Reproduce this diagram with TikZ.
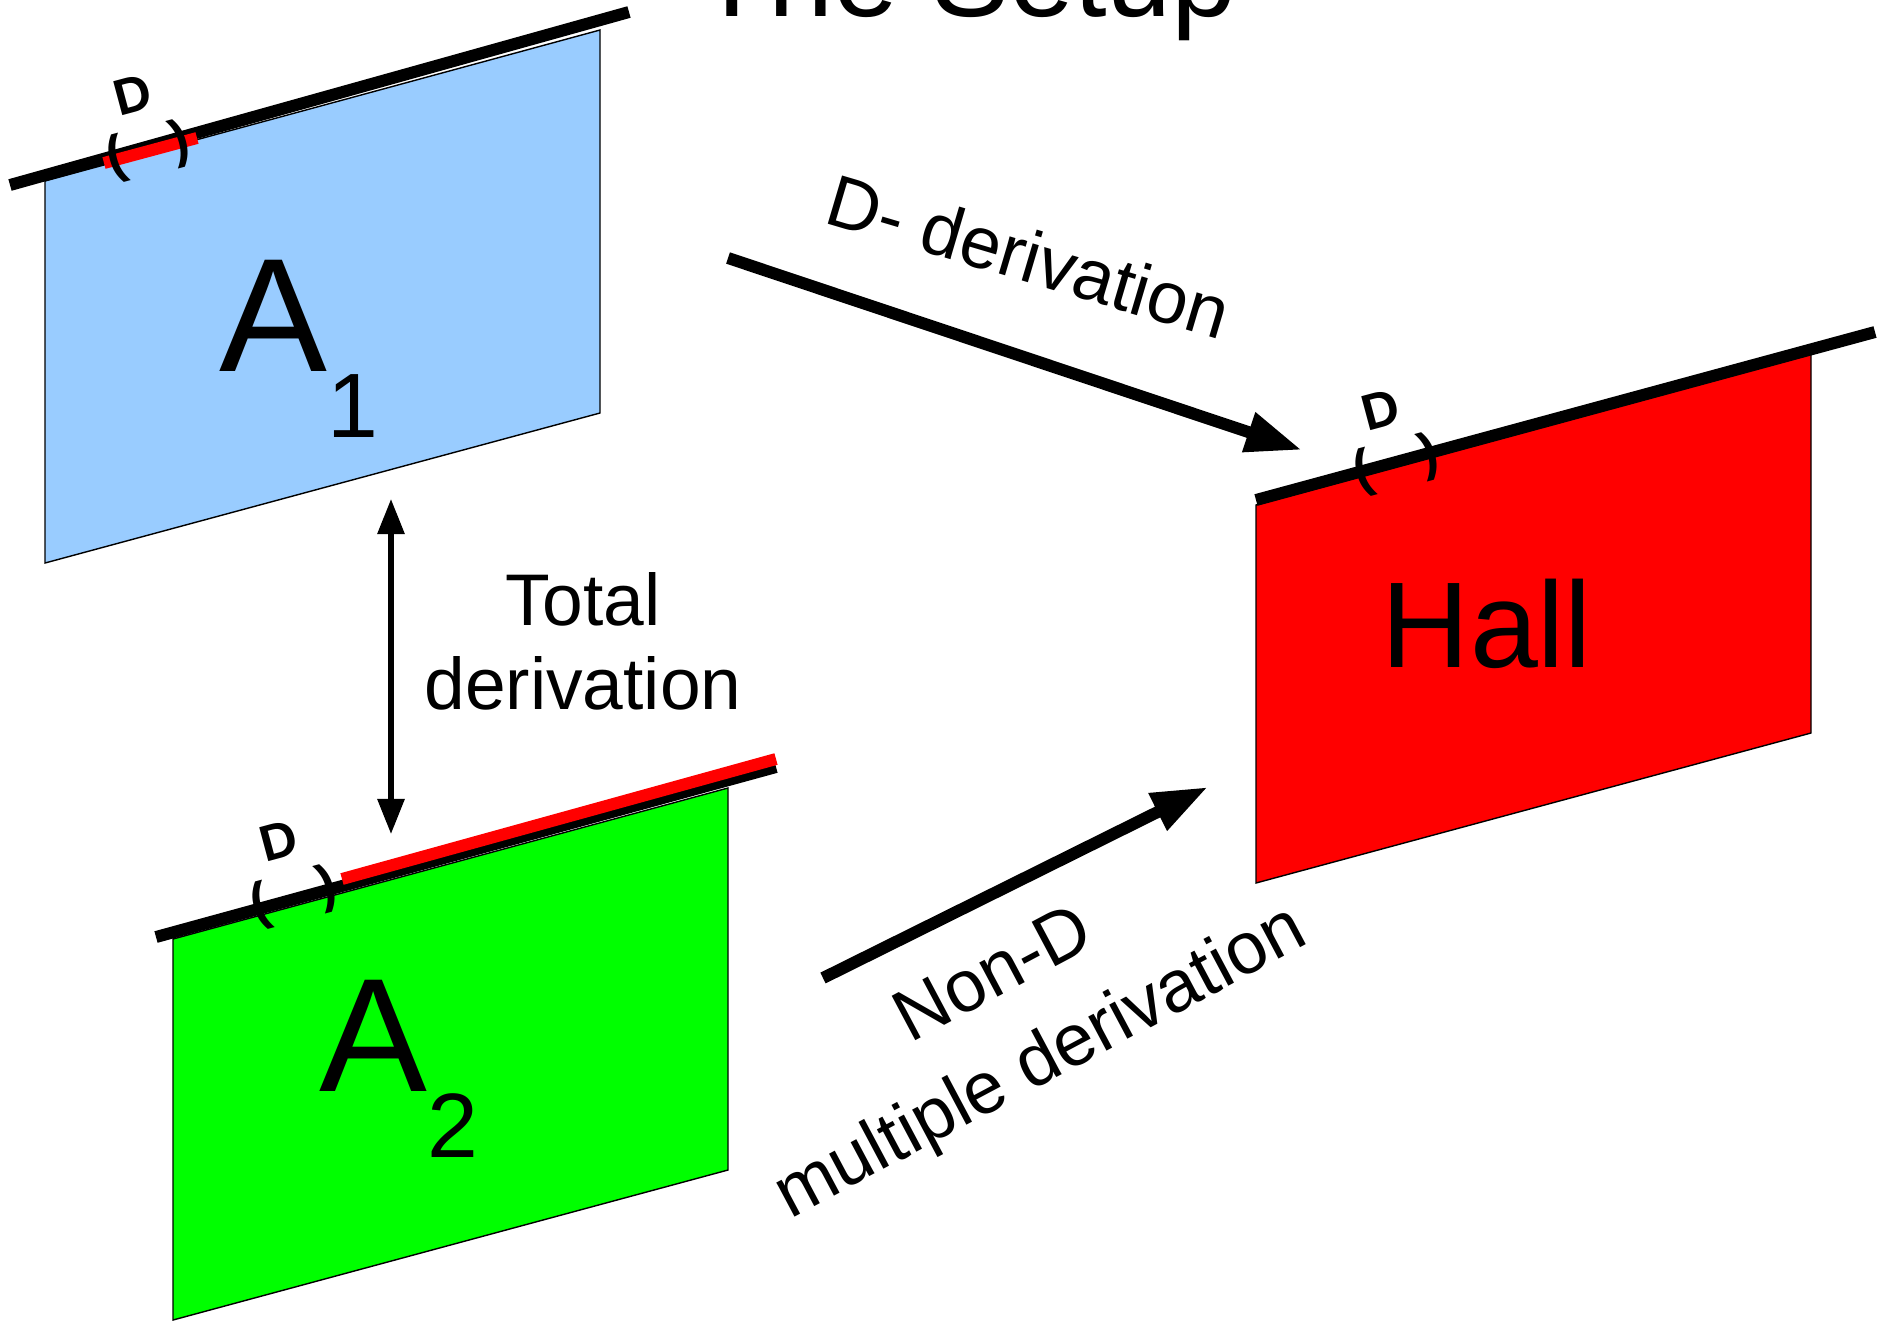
\documentclass[tikz,border=0pt]{standalone}
\usepackage{fontspec}
\setmainfont{Liberation Sans}
\usetikzlibrary{arrows.meta}
\definecolor{skyblue}{RGB}{153,204,255}
\definecolor{puregreen}{RGB}{0,255,0}
\definecolor{purered}{RGB}{255,0,0}

\begin{document}
\begin{tikzpicture}[
    x=0.01cm, y=-0.01cm,
    panel/.style={draw=black,line width=0.4pt},
    rim/.style={line width=3.4pt},
    dlabel/.style={font=\fontsize{14.5}{14.5}\selectfont\bfseries,inner sep=0pt,rotate=15},
    paren/.style={font=\fontsize{15}{15}\selectfont\bfseries,inner sep=0pt,rotate=15},
    biglabel/.style={font=\fontsize{46}{46}\selectfont,inner sep=0pt,anchor=base west},
    caption/.style={font=\fontsize{20.8}{23.9}\selectfont,align=center,inner sep=0pt},
    derarrow/.style={-{Triangle[length=16pt,width=11pt]},line width=3.4pt},
    twoway/.style={{Triangle[length=10pt,width=7.5pt]}-{Triangle[length=10pt,width=7.5pt]},line width=1.5pt}
  ]
    \useasboundingbox (0,0) rectangle (1896,1320);

    \node[font=\fontsize{33.3}{33.3}\selectfont,anchor=base] (title) at (967,16) {The Setup};

    % the three panels
    \draw[panel,fill=skyblue] (45,181) -- (600,30) -- (600,413) -- (45,563) -- cycle;
    \draw[panel,fill=puregreen] (173,939) -- (728,788) -- (728,1170) -- (173,1320) -- cycle;
    \draw[panel,fill=purered] (1256,505) -- (1811,354) -- (1811,733) -- (1256,883) -- cycle;

    % edges with the D part
    \draw[rim] (10,185) -- (629,12);
    \draw[rim,purered] (104,163) -- (197,138);
    \draw[rim] (156,937) -- (776,767);
    \draw[rim,purered] (342,879) -- (776,759);
    \draw[rim] (1256,500) -- (1875,332);

    \node[dlabel] (aoned) at (133,95) {D};
    \node[paren] (aoneopen) at (116,159) {(};
    \node[paren] (aoneclose) at (180,143) {)};
    \node[dlabel] (atwod) at (279,841) {D};
    \node[paren] (atwoopen) at (260,906) {(};
    \node[paren] (atwoclose) at (327,888) {)};
    \node[dlabel] (halld) at (1381,410) {D};
    \node[paren] (hallopen) at (1363,473) {(};
    \node[paren] (hallclose) at (1429,456) {)};

    \node[biglabel] (aone) at (219,371) {A\raisebox{-19pt}{\fontsize{26}{26}\selectfont 1}};
    \node[biglabel] (atwo) at (319,1091) {A\raisebox{-19pt}{\fontsize{26}{26}\selectfont 2}};
    \node[font=\fontsize{34.7}{34.7}\selectfont,inner sep=0pt,anchor=base] (hall) at (1487,667) {Hall};

    % arrows between the panels
    \coordinate (totaltop) at (391,499);
    \coordinate (totalbot) at (391,834);
    \coordinate (dfrom) at (728,258);
    \coordinate (dto) at (1302,450);
    \coordinate (nfrom) at (823,978);
    \coordinate (nto) at (1208,787);
    \draw[twoway] (totaltop) -- (totalbot);
    \draw[derarrow] (dfrom) -- (dto);
    \draw[derarrow] (nfrom) -- (nto);

    \node[caption] (total) at (583,641) {Total\\derivation};
    \node[caption,rotate=-16.5] (dder) at (1029,256) {D- derivation};
    \node[caption,rotate=28,font=\fontsize{20.8}{28}\selectfont] (nonder) at (1019,1022) {Non-D\\multiple derivation};
  \end{tikzpicture}
\end{document}
